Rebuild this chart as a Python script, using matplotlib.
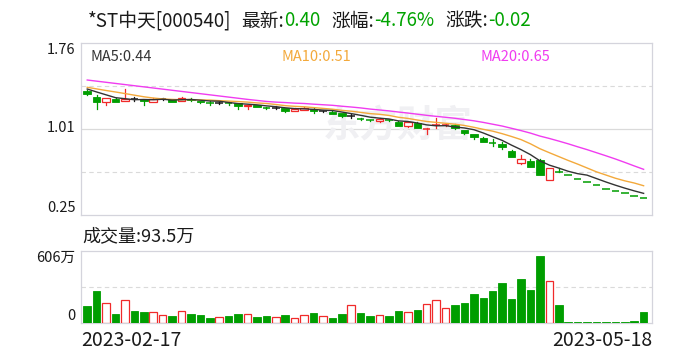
import matplotlib
matplotlib.use('Agg')
import matplotlib.pyplot as plt
from matplotlib.patches import Rectangle

plt.rcParams['font.family'] = ['Noto Sans CJK SC', 'DejaVu Sans']

# ---------------- data ----------------
stock_name = '*ST中天[000540]'
date_labels = ['2023-02-17', '2023-05-18']

opens = [1.34, 1.29, 1.24, 1.27, 1.25, 1.27, 1.265, 1.245, 1.27, 1.265,
         1.25, 1.27, 1.25, 1.24, 1.235, 1.232, 1.23, 1.205, 1.215, 1.194,
         1.19, 1.19, 1.165, 1.175, 1.18, 1.16, 1.155, 1.145, 1.12, 1.094,
         1.084, 1.075, 1.084, 1.07, 1.03, 1.06, 1.004, 1.036, 1.036, 1.04,
         0.995, 0.96, 0.93, 0.883, 0.87, 0.815, 0.705, 0.725, 0.735, 0.555,
         0.63, 0.60, 0.57, 0.54, 0.51, 0.48, 0.46, 0.44, 0.42, 0.40]
highs = [1.35, 1.30, 1.28, 1.275, 1.36, 1.285, 1.27, 1.28, 1.275, 1.27,
         1.29, 1.275, 1.255, 1.25, 1.245, 1.245, 1.235, 1.22, 1.22, 1.20,
         1.205, 1.19, 1.185, 1.20, 1.185, 1.165, 1.16, 1.145, 1.14, 1.10,
         1.088, 1.10, 1.088, 1.075, 1.07, 1.065, 1.01, 1.10, 1.05, 1.045,
         1.00, 0.965, 0.935, 0.915, 0.89, 0.82, 0.78, 0.74, 0.74, 0.66,
         0.66, 0.60, 0.57, 0.54, 0.51, 0.48, 0.46, 0.44, 0.42, 0.40]
lows = [1.30, 1.18, 1.22, 1.24, 1.25, 1.25, 1.22, 1.24, 1.26, 1.24,
        1.25, 1.25, 1.235, 1.22, 1.225, 1.215, 1.18, 1.18, 1.195, 1.18,
        1.18, 1.155, 1.16, 1.17, 1.145, 1.155, 1.135, 1.11, 1.10, 1.08,
        1.078, 1.07, 1.075, 1.03, 1.025, 1.01, 0.965, 1.01, 1.03, 1.005,
        0.965, 0.915, 0.89, 0.855, 0.83, 0.755, 0.70, 0.67, 0.60, 0.555,
        0.63, 0.60, 0.57, 0.54, 0.51, 0.48, 0.46, 0.44, 0.42, 0.40]
closes = [1.31, 1.24, 1.28, 1.245, 1.27, 1.27, 1.25, 1.27, 1.27, 1.245,
          1.28, 1.26, 1.24, 1.235, 1.235, 1.228, 1.21, 1.215, 1.20, 1.19,
          1.19, 1.16, 1.18, 1.19, 1.16, 1.16, 1.14, 1.12, 1.12, 1.09,
          1.08, 1.095, 1.08, 1.035, 1.065, 1.015, 1.008, 1.04, 1.04, 1.01,
          0.97, 0.935, 0.895, 0.879, 0.85, 0.76, 0.74, 0.675, 0.605, 0.66,
          0.63, 0.60, 0.57, 0.54, 0.51, 0.48, 0.46, 0.44, 0.42, 0.40]

# volume in 万 (10k shares)
volumes = [143, 272, 168, 78, 194, 101, 95, 93, 65, 59,
           101, 76, 65, 42, 48, 59, 76, 76, 50, 59,
           48, 67, 40, 65, 84, 56, 42, 76, 149, 84,
           59, 65, 59, 101, 93, 107, 157, 196, 129, 149,
           166, 241, 208, 267, 334, 199, 368, 275, 561, 356,
           149, 6, 6, 6, 6, 6, 6, 6, 17, 93.5]
vol_up = [0, 0, 1, 0, 1, 0, 0, 1, 1, 0,
          1, 0, 0, 0, 1, 0, 0, 1, 0, 0,
          1, 0, 1, 1, 0, 1, 0, 0, 1, 0,
          0, 1, 0, 0, 1, 0, 1, 1, 1, 0,
          0, 0, 0, 0, 0, 0, 0, 0, 0, 1,
          0, 0, 0, 0, 0, 0, 0, 0, 0, 0]

ma5 = [1.356, 1.33, 1.305, 1.28, 1.271, 1.262, 1.264, 1.262, 1.266, 1.259,
       1.262, 1.264, 1.258, 1.251, 1.249, 1.238, 1.228, 1.223, 1.217, 1.208,
       1.201, 1.191, 1.184, 1.182, 1.177, 1.171, 1.167, 1.154, 1.14, 1.125,
       1.109, 1.10, 1.093, 1.076, 1.071, 1.058, 1.041, 1.033, 1.034, 1.023,
       1.014, 0.999, 0.97, 0.937, 0.905, 0.863, 0.824, 0.78, 0.726, 0.688,
       0.662, 0.634, 0.613, 0.60, 0.57, 0.54, 0.512, 0.486, 0.462, 0.44]
ma10 = [1.371, 1.357, 1.343, 1.33, 1.316, 1.302, 1.288, 1.277, 1.269, 1.265,
        1.262, 1.264, 1.26, 1.259, 1.254, 1.25, 1.246, 1.241, 1.234, 1.229,
        1.22, 1.21, 1.204, 1.2, 1.193, 1.186, 1.179, 1.169, 1.161, 1.151,
        1.14, 1.134, 1.124, 1.108, 1.098, 1.084, 1.071, 1.063, 1.055, 1.047,
        1.036, 1.02, 1.002, 0.986, 0.964, 0.939, 0.912, 0.875, 0.832, 0.797,
        0.763, 0.729, 0.697, 0.663, 0.629, 0.601, 0.573, 0.55, 0.531, 0.507]
ma20 = [1.435, 1.425, 1.415, 1.405, 1.395, 1.385, 1.375, 1.365, 1.355, 1.345,
        1.335, 1.325, 1.315, 1.305, 1.295, 1.285, 1.275, 1.265, 1.256, 1.247,
        1.241, 1.237, 1.232, 1.229, 1.223, 1.218, 1.213, 1.205, 1.198, 1.19,
        1.18, 1.172, 1.164, 1.154, 1.145, 1.135, 1.125, 1.116, 1.108, 1.099,
        1.088, 1.077, 1.063, 1.047, 1.031, 1.011, 0.991, 0.969, 0.943, 0.922,
        0.899, 0.875, 0.849, 0.824, 0.797, 0.77, 0.742, 0.712, 0.681, 0.651]

price_ticks = [0.25, 1.01, 1.76]
vol_max = 606

# ---------------- style ----------------
RED = '#f02a2a'
GREEN = '#009e00'
TXTGREEN = '#00a300'
BLACK = '#1a1a1a'
MA5C = '#333333'
MA10C = '#f3a93b'
MA20C = '#f03cf0'
BORDER = '#d4d4dc'
GRID = '#dadada'

W, H = 688, 360
fig = plt.figure(figsize=(W / 100, H / 100), dpi=100)
fig.patch.set_facecolor('white')


def fx(px):
    return px / W


def fy(py):
    return 1 - py / H


ax = fig.add_axes([fx(81), fy(215), fx(652) - fx(81), fy(43) - fy(215)])
axv = fig.add_axes([fx(81), fy(323), fx(652) - fx(81), fy(251) - fy(323)])

n = len(closes)
xs = list(range(n))
XL = (-0.66, n - 1 + 0.89)
bw = 0.8

for a in (ax, axv):
    a.set_xlim(*XL)
    for s in a.spines.values():
        s.set_color(BORDER)
        s.set_linewidth(0.9)
    a.tick_params(axis='both', length=0, labelsize=10.5, colors=BLACK, pad=4)
    a.set_xticks([])

ylo, yhi = price_ticks[0], price_ticks[-1]
ax.set_ylim(ylo, yhi)
# gridlines
for k in (1, 3):
    ax.axhline(ylo + (yhi - ylo) * k / 4, color=GRID, lw=0.8, ls=(0, (4, 3)), zorder=0)
ax.axhline(ylo + (yhi - ylo) / 2, color=GRID, lw=0.9, zorder=0)

ax.set_yticks(price_ticks)
ax.set_yticklabels([f'{v:.2f}' for v in price_ticks])
tl = ax.get_yticklabels()
tl[0].set_va('bottom')
tl[1].set_va('center')
tl[2].set_va('top')

# watermark
ax.text(0.555, 0.52, '东方财富', transform=ax.transAxes, fontsize=27, color='#f0f0f3',
        fontweight='bold', ha='center', va='center', zorder=0.5, style='italic')

# candles
for i in xs:
    o, h, l, c = opens[i], highs[i], lows[i], closes[i]
    if c > o:
        col = RED
    elif c < o:
        col = GREEN
    else:
        prev = closes[i - 1] if i > 0 else c
        col = RED if c > prev else (GREEN if c < prev else BLACK)
    top, bot = max(o, c), min(o, c)
    if top - bot < 0.007:
        ym = (top + bot) / 2
        ax.plot([i - bw / 2, i + bw / 2], [ym, ym], color=col, lw=1.1,
                solid_capstyle='butt', zorder=3)
        if h > ym:
            ax.plot([i, i], [ym, h], color=col, lw=0.9, zorder=3)
        if l < ym:
            ax.plot([i, i], [l, ym], color=col, lw=0.9, zorder=3)
    else:
        if col == RED:
            ax.add_patch(Rectangle((i - bw / 2, bot), bw, top - bot, facecolor='white',
                                   edgecolor=RED, lw=0.9, zorder=3))
        else:
            ax.add_patch(Rectangle((i - bw / 2, bot), bw, top - bot, facecolor=col,
                                   edgecolor=col, lw=0.6, zorder=3))
        if h > top:
            ax.plot([i, i], [top, h], color=col, lw=0.9, zorder=2.9)
        if l < bot:
            ax.plot([i, i], [l, bot], color=col, lw=0.9, zorder=2.9)

ax.plot(xs, ma20, color=MA20C, lw=1.0, zorder=4)
ax.plot(xs, ma10, color=MA10C, lw=1.0, zorder=4)
ax.plot(xs, ma5, color=MA5C, lw=1.0, zorder=4)

ax.text(0.016, 0.918, f'MA5:{ma5[-1]:.2f}', transform=ax.transAxes, color=MA5C,
        fontsize=10.5, va='center', ha='left')
ax.text(0.352, 0.918, f'MA10:{ma10[-1]:.2f}', transform=ax.transAxes, color=MA10C,
        fontsize=10.5, va='center', ha='left')
ax.text(0.699, 0.918, f'MA20:{ma20[-1]:.2f}', transform=ax.transAxes, color=MA20C,
        fontsize=10.5, va='center', ha='left')

# volume
axv.set_ylim(0, vol_max)
axv.axhline(vol_max / 2, color=GRID, lw=0.8, ls=(0, (4, 3)), zorder=0)
for i in xs:
    v = volumes[i]
    if vol_up[i]:
        axv.add_patch(Rectangle((i - bw / 2, 0), bw, v, facecolor='white',
                                edgecolor=RED, lw=0.9, zorder=3))
    else:
        axv.add_patch(Rectangle((i - bw / 2, 0), bw, v, facecolor=GREEN,
                                edgecolor=GREEN, lw=0.6, zorder=3))
axv.set_yticks([0, vol_max])
axv.set_yticklabels(['0', f'{vol_max}万'])
vl = axv.get_yticklabels()
vl[0].set_va('bottom')
vl[1].set_va('top')

axv.text(0.0, -0.25, date_labels[0], transform=axv.transAxes, fontsize=14,
         color=BLACK, ha='left', va='center')
axv.text(1.0, -0.25, date_labels[1], transform=axv.transAxes, fontsize=14,
         color=BLACK, ha='right', va='center')

fig.text(fx(82), fy(236), f'成交量:{volumes[-1]:g}万', fontsize=13, color=BLACK,
         ha='left', va='center')

# title
latest = closes[-1]
chg = closes[-1] - closes[-2]
pct = chg / closes[-2] * 100
pieces = [(stock_name, BLACK, 10), ('最新:', BLACK, 0), (f'{latest:.2f}', TXTGREEN, 11),
          ('涨幅:', BLACK, 0), (f'{pct:.2f}%', TXTGREEN, 11),
          ('涨跌:', BLACK, 0), (f'{chg:.2f}', TXTGREEN, 0)]
renderer = fig.canvas.get_renderer()
x = 88
for txt, col, gap in pieces:
    t = fig.text(fx(x), fy(21), txt, color=col, fontsize=13.5, ha='left', va='center')
    bb = t.get_window_extent(renderer)
    x += bb.width + gap

fig.savefig('out.png', dpi=100, facecolor='white')
